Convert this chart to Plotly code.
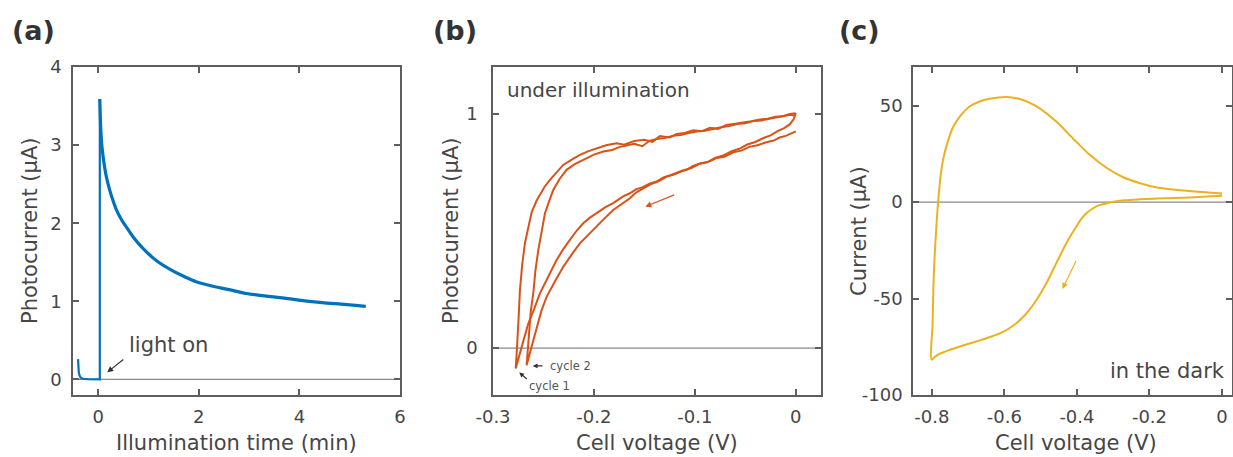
import plotly.graph_objects as go

# ---------------- data ----------------
# (a) photocurrent transient (dark part + light-on spike, then decay)
time_dark = [-0.40, -0.395, -0.385, -0.37, -0.35, -0.32, -0.28, -0.2, -0.1, 0.0, 0.033, 0.033]
current_dark = [0.26, 0.17, 0.09, 0.05, 0.025, 0.012, 0.005, 0.002, 0.0, 0.0, 0.0, 3.59]
time_decay = [0.033, 0.053, 0.07, 0.099, 0.13, 0.165, 0.231, 0.30, 0.363, 0.45, 0.561, 0.70,
              0.90, 1.16, 1.43, 1.70, 1.95, 2.30, 2.60, 2.94, 3.30, 3.70, 4.20, 4.70, 5.00,
              5.32]
current_decay = [3.59, 3.19, 3.02, 2.85, 2.71, 2.59, 2.42, 2.28, 2.17, 2.06, 1.95, 1.82,
                 1.67, 1.52, 1.41, 1.32, 1.25, 1.19, 1.15, 1.10, 1.07, 1.04, 1.00, 0.97,
                 0.955, 0.935]

# (b) photocurrent vs cell voltage under illumination, two cycles
cyc1_v = [0.0, -0.004, -0.010, -0.016, -0.022, -0.030, -0.038, -0.046, -0.054, -0.062,
          -0.070, -0.078, -0.086, -0.094, -0.1017, -0.1082, -0.116, -0.124, -0.131, -0.1379,
          -0.145, -0.152, -0.158, -0.1644, -0.171, -0.1809, -0.189, -0.1973, -0.204, -0.2106,
          -0.217, -0.2238, -0.230, -0.237, -0.245, -0.2535, -0.259, -0.265, -0.270, -0.2775,
          -0.2765, -0.2756, -0.2745, -0.2733, -0.271, -0.2683, -0.265, -0.2617, -0.257,
          -0.2535, -0.249, -0.2436, -0.237, -0.2304, -0.222, -0.2139, -0.206, -0.1973,
          -0.188, -0.1775, -0.170, -0.160, -0.150, -0.142, -0.1347, -0.125, -0.118, -0.110,
          -0.1017, -0.093, -0.085, -0.077, -0.0686, -0.060, -0.052, -0.044, -0.0356, -0.028,
          -0.020, -0.012, -0.006, 0.0]
cyc1_i = [0.925, 0.918, 0.906, 0.899, 0.886, 0.878, 0.866, 0.859, 0.843, 0.836,
          0.818, 0.812, 0.796, 0.789, 0.778, 0.761, 0.752, 0.738, 0.729, 0.711,
          0.702, 0.686, 0.679, 0.661, 0.648, 0.619, 0.601, 0.576, 0.557, 0.533,
          0.502, 0.462, 0.425, 0.376, 0.310, 0.234, 0.170, 0.105, 0.030, -0.087,
          -0.020, 0.034, 0.140, 0.248, 0.360, 0.450, 0.520, 0.580, 0.628,
          0.655, 0.688, 0.718, 0.752, 0.782, 0.805, 0.825, 0.840, 0.853,
          0.866, 0.874, 0.868, 0.884, 0.889, 0.880, 0.905, 0.899, 0.914, 0.918,
          0.930, 0.926, 0.941, 0.936, 0.953, 0.958, 0.962, 0.968, 0.976, 0.979,
          0.988, 0.990, 1.000, 1.003]
cyc2_v = [0.0, -0.002, -0.006, -0.012, -0.018, -0.025, -0.032, -0.040, -0.048, -0.056,
          -0.064, -0.072, -0.080, -0.088, -0.096, -0.104, -0.112, -0.120, -0.128, -0.136,
          -0.144, -0.152, -0.158, -0.1644, -0.172, -0.1809, -0.189, -0.1973, -0.205, -0.2139,
          -0.222, -0.2304, -0.238, -0.2469, -0.252, -0.256, -0.260, -0.2667,
          -0.2655, -0.264, -0.2625, -0.2601, -0.258, -0.2551, -0.252, -0.2485, -0.244,
          -0.2403, -0.234, -0.2271, -0.219, -0.2106, -0.200, -0.1908, -0.182, -0.175,
          -0.1676, -0.160, -0.152, -0.145, -0.138, -0.130, -0.122, -0.114, -0.106, -0.098,
          -0.090, -0.082, -0.074, -0.066, -0.058, -0.050, -0.042, -0.034, -0.026, -0.018,
          -0.010, -0.004, 0.0]
cyc2_i = [1.003, 0.978, 0.955, 0.938, 0.926, 0.908, 0.897, 0.880, 0.869, 0.851,
          0.840, 0.822, 0.812, 0.793, 0.786, 0.768, 0.758, 0.742, 0.732, 0.712,
          0.699, 0.680, 0.665, 0.640, 0.617, 0.590, 0.556, 0.519, 0.486, 0.447,
          0.400, 0.347, 0.290, 0.219, 0.160, 0.100, 0.034, -0.073,
          0.000, 0.080, 0.160, 0.234, 0.330, 0.419, 0.500, 0.576, 0.632,
          0.675, 0.722, 0.761, 0.785, 0.803, 0.826, 0.839, 0.846, 0.858,
          0.866, 0.872, 0.862, 0.885, 0.893, 0.897, 0.906, 0.910, 0.918, 0.925,
          0.928, 0.937, 0.943, 0.948, 0.957, 0.960, 0.969, 0.972, 0.980, 0.986,
          0.993, 0.996, 0.990]

# (c) cyclic voltammogram in the dark
cv_v = [0.0, -0.09, -0.18, -0.228, -0.27, -0.295, -0.315, -0.338, -0.355, -0.3747,
        -0.39, -0.4022, -0.416, -0.4297, -0.4572, -0.4847, -0.5122, -0.535, -0.558, -0.58,
        -0.604, -0.635, -0.668, -0.705, -0.7414, -0.762, -0.778, -0.790, -0.8008,
        -0.798, -0.7945, -0.787, -0.7827, -0.779, -0.775, -0.769, -0.760, -0.750, -0.741,
        -0.720, -0.696, -0.670, -0.6405, -0.5947, -0.549, -0.503, -0.4572, -0.4115,
        -0.3656, -0.3197, -0.274, -0.2282, -0.1824, -0.0907, 0.0]
cv_i = [3.3, 2.4, 1.8, 1.4, 0.9, 0.3, -0.5, -1.6, -3.2, -5.9,
        -9.2, -12.8, -17.0, -21.5, -31.8, -42.2, -50.9, -56.8, -61.3, -64.6,
        -67.3, -69.7, -71.7, -73.8, -76.0, -77.4, -78.6, -80.0, -81.7,
        -63.0, -37.0, -11.0, 0.2, 8.0, 15.0, 22.0, 29.0, 35.0, 39.0,
        45.0, 49.5, 52.0, 53.5, 54.5, 52.9, 48.6, 41.7, 33.1,
        24.6, 17.9, 13.0, 9.9, 7.7, 5.7, 4.5]

# tick labels
a_xticks = [0, 2, 4, 6]
a_yticks = [0, 1, 2, 3, 4]
b_xticks = [-0.3, -0.2, -0.1, 0]
b_xlabels = ["-0.3", "-0.2", "-0.1", "0"]
b_yticks = [0, 1]
c_xticks = [-0.8, -0.6, -0.4, -0.2, 0]
c_xlabels = ["-0.8", "-0.6", "-0.4", "-0.2", "0"]
c_yticks = [-100, -50, 0, 50]
c_ylabels = ["-100", "-50", "0", "50"]

# ---------------- styling ----------------
W, H = 1233, 457
FONT = "DejaVu Sans"
TXT = "#464646"
AX = "#5e5e5e"
BLUE = "#0072BD"
ORANGE = "#D95319"
YELLOW = "#EDB120"


def px_x(p):
    return p / W


def px_y(p):
    return 1 - p / H


top, bottom = 67, 395
ydom = [px_y(bottom), px_y(top)]

fig = go.Figure()
fig.add_trace(go.Scatter(x=time_dark, y=current_dark, mode="lines",
                         line=dict(color=BLUE, width=2.2), xaxis="x", yaxis="y",
                         showlegend=False))
fig.add_trace(go.Scatter(x=time_decay, y=current_decay, mode="lines", line_shape="spline",
                         line=dict(color=BLUE, width=3.2, smoothing=0.9), xaxis="x", yaxis="y",
                         showlegend=False))
fig.add_trace(go.Scatter(x=cyc1_v, y=cyc1_i, mode="lines",
                         line=dict(color=ORANGE, width=2), xaxis="x2", yaxis="y2",
                         showlegend=False))
fig.add_trace(go.Scatter(x=cyc2_v, y=cyc2_i, mode="lines",
                         line=dict(color=ORANGE, width=2), xaxis="x2", yaxis="y2",
                         showlegend=False))
fig.add_trace(go.Scatter(x=cv_v, y=cv_i, mode="lines", line_shape="spline",
                         line=dict(color=YELLOW, width=2, smoothing=0.9), xaxis="x3", yaxis="y3",
                         showlegend=False))

common = dict(showline=True, mirror="ticks", linecolor=AX, linewidth=1.6,
              ticks="inside", ticklen=6, tickcolor=AX, tickwidth=1.5,
              showgrid=False, zeroline=False, automargin=False,
              tickfont=dict(family=FONT, size=18, color=TXT))

fig.update_layout(
    template="none",
    width=W, height=H, margin=dict(l=0, r=0, t=0, b=0, autoexpand=False),
    paper_bgcolor="white", plot_bgcolor="white",
    font=dict(family=FONT, color=TXT),
    xaxis=dict(domain=[px_x(73), px_x(400)], range=[-0.5, 6], tickvals=a_xticks,
               anchor="y", ticklabelstandoff=5, **common),
    yaxis=dict(domain=ydom, range=[-0.2, 4], tickvals=a_yticks, anchor="x",
               ticklabelstandoff=6, **common),
    xaxis2=dict(domain=[px_x(493), px_x(821)], range=[-0.3, 0.025], tickvals=b_xticks,
                ticktext=b_xlabels, anchor="y2", ticklabelstandoff=5, **common),
    yaxis2=dict(domain=ydom, range=[-0.2, 1.2], tickvals=b_yticks, anchor="x2",
                ticklabelstandoff=10, **common),
    xaxis3=dict(domain=[px_x(913), px_x(1232)], range=[-0.852, 0.0275], tickvals=c_xticks,
                ticktext=c_xlabels, anchor="y3", ticklabelstandoff=5, **common),
    yaxis3=dict(domain=ydom, range=[-100, 70], tickvals=c_yticks, ticktext=c_ylabels,
                anchor="x3", ticklabelstandoff=5, **common),
)

# zero lines
for xr, yr in [("x", "y"), ("x2", "y2"), ("x3", "y3")]:
    fig.add_shape(type="line", xref=f"{xr} domain", yref=yr, x0=0, x1=1, y0=0, y1=0,
                  line=dict(color="#8a8a8a", width=1.2), layer="below")

ann = []
TS = 21
# panel labels
for lab, x in [("(a)", 10), ("(b)", 431), ("(c)", 837)]:
    ann.append(dict(text=f"<b>{lab}</b>", xref="paper", yref="paper", x=px_x(x),
                    y=px_y(31), xanchor="left", yanchor="middle", showarrow=False,
                    font=dict(family=FONT, size=27, color="#333333")))
# axis titles
for t, x, y in [("Illumination time (min)", 236.5, 443), ("Cell voltage (V)", 657, 443),
                ("Cell voltage (V)", 1076, 443)]:
    ann.append(dict(text=t, xref="paper", yref="paper", x=px_x(x), y=px_y(y),
                    xanchor="center", yanchor="middle", showarrow=False,
                    font=dict(family=FONT, size=TS, color=TXT)))
for t, x, y in [("Photocurrent (µA)", 30, 231), ("Photocurrent (µA)", 451, 231),
                ("Current (µA)", 859, 231)]:
    ann.append(dict(text=t, xref="paper", yref="paper", x=px_x(x), y=px_y(y),
                    xanchor="center", yanchor="middle", showarrow=False, textangle=-90,
                    font=dict(family=FONT, size=TS, color=TXT)))
# in-plot texts
ann.append(dict(text="light on", xref="x", yref="y", x=0.57, y=0.44, xanchor="left",
                yanchor="middle", showarrow=False, font=dict(family=FONT, size=21, color=TXT)))
ann.append(dict(text="", xref="x", yref="y", x=0.18, y=0.09, axref="x", ayref="y",
                ax=0.53, ay=0.27, showarrow=True, arrowhead=2, arrowsize=1, arrowwidth=1.2,
                arrowcolor="#333333"))
ann.append(dict(text="under illumination", xref="x2", yref="y2", x=-0.288, y=1.10,
                xanchor="left", yanchor="middle", showarrow=False,
                font=dict(family=FONT, size=20, color=TXT)))
ann.append(dict(text="", xref="x2", yref="y2", x=-0.149, y=0.604, axref="x2", ayref="y2",
                ax=-0.119, ay=0.657, showarrow=True, arrowhead=2, arrowsize=1,
                arrowwidth=1.2, arrowcolor=ORANGE))
ann.append(dict(text="cycle 2", xref="x2", yref="y2", x=-0.246, y=-0.076, xanchor="left",
                yanchor="middle", showarrow=False, font=dict(family=FONT, size=11.5, color="#555555")))
ann.append(dict(text="", xref="x2", yref="y2", x=-0.2606, y=-0.076, axref="x2", ayref="y2",
                ax=-0.2495, ay=-0.076, showarrow=True, arrowhead=2, arrowsize=0.8,
                arrowwidth=1.2, arrowcolor="#333333"))
ann.append(dict(text="cycle 1", xref="x2", yref="y2", x=-0.2665, y=-0.160, xanchor="left",
                yanchor="middle", showarrow=False, font=dict(family=FONT, size=11.5, color="#555555")))
ann.append(dict(text="", xref="x2", yref="y2", x=-0.274, y=-0.104, axref="x2", ayref="y2",
                ax=-0.265, ay=-0.137, showarrow=True, arrowhead=2, arrowsize=0.8,
                arrowwidth=1.2, arrowcolor="#333333"))
ann.append(dict(text="in the dark", xref="x3", yref="y3", x=0.014, y=-87.6, xanchor="right",
                yanchor="middle", showarrow=False, font=dict(family=FONT, size=21, color=TXT)))
ann.append(dict(text="", xref="x3", yref="y3", x=-0.44, y=-45, axref="x3", ayref="y3",
                ax=-0.4005, ay=-29.8, showarrow=True, arrowhead=2, arrowsize=1,
                arrowwidth=1.2, arrowcolor=YELLOW))
fig.update_layout(annotations=ann)

fig.write_html("out.html")
